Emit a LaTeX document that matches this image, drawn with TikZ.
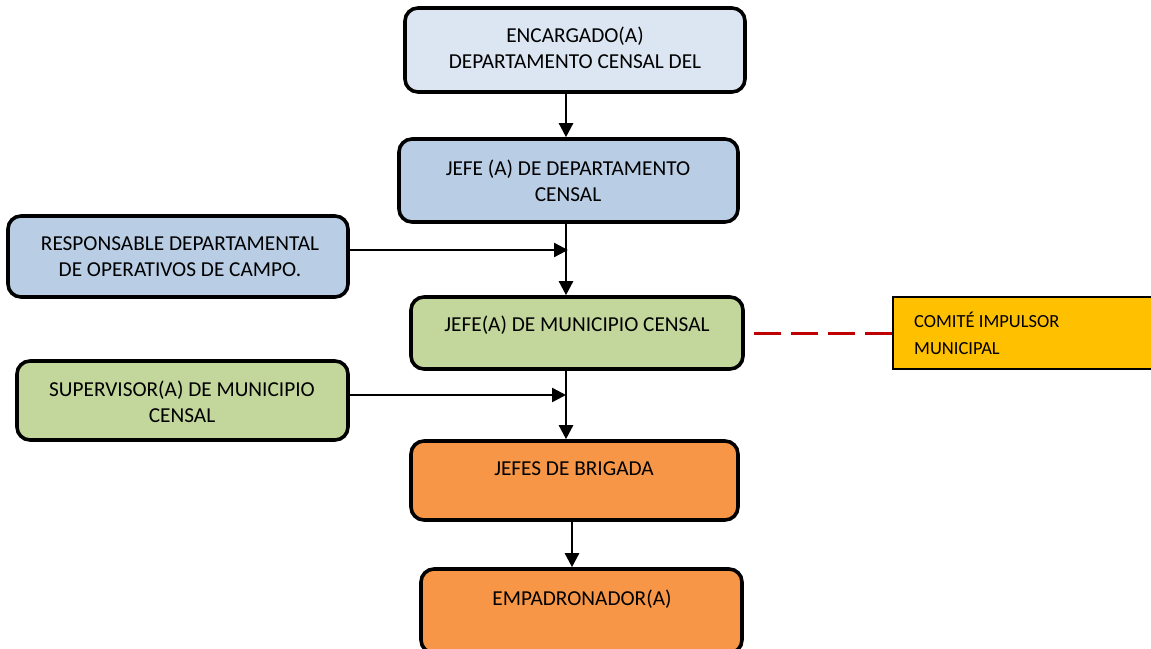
\documentclass[tikz,border=0pt]{standalone}
\usepackage{fontspec}
\setmainfont{Carlito}
\usetikzlibrary{arrows.meta}
\definecolor{blueA}{HTML}{DCE6F2}
\definecolor{blueB}{HTML}{B9CDE5}
\definecolor{greenA}{HTML}{C3D69B}
\definecolor{orangeA}{HTML}{F79646}
\definecolor{goldA}{HTML}{FFC000}
\definecolor{redA}{HTML}{C00000}
\tikzset{
  box/.style={draw=black, line width=3.6pt, rounded corners=13pt, inner sep=0pt},
  txt/.style={font=\fontsize{21.3}{26}\selectfont, align=center, inner sep=0pt},
  arr/.style={line width=2.4pt, -{Triangle[length=14pt,width=14pt]}},
}
\begin{document}
\begin{tikzpicture}[x=1pt,y=-1pt]
\useasboundingbox (0,0) rectangle (1151,648);
% boxes
\node[box, fill=blueA, minimum width=340pt, minimum height=84pt] (b1) at (575,50) {};
\node[box, fill=blueB, minimum width=339pt, minimum height=83pt] (b2) at (568.5,180.5) {};
\node[box, fill=blueB, minimum width=340pt, minimum height=81pt] (b3) at (178,256.5) {};
\node[box, fill=greenA, minimum width=332pt, minimum height=72pt] (b4) at (577,333) {};
\node[box, fill=greenA, minimum width=331pt, minimum height=79pt] (b5) at (182.5,400.5) {};
\node[box, fill=orangeA, minimum width=327pt, minimum height=79pt] (b6) at (574.5,480.5) {};
\node[box, fill=orangeA, minimum width=321pt, minimum height=84pt] (b7) at (581.5,611) {};
\node[draw=black, line width=1.2pt, fill=goldA, minimum width=262pt, minimum height=72pt, inner sep=0pt] (c1) at (1024,333) {};
% texts
\node[txt] (t1) at (575,48) {ENCARGADO(A)\\DEPARTAMENTO CENSAL DEL};
\node[txt] (t2) at (568,180.5) {JEFE (A) DE DEPARTAMENTO\\CENSAL};
\node[txt] (t3) at (180,257) {RESPONSABLE DEPARTAMENTAL\\DE OPERATIVOS DE CAMPO.};
\node[txt] (t4) at (577,325) {JEFE(A) DE MUNICIPIO CENSAL};
\node[txt] (t5) at (182,402) {SUPERVISOR(A) DE MUNICIPIO\\CENSAL};
\node[txt] (t6) at (574,469) {JEFES DE BRIGADA};
\node[txt] (t7) at (582,599) {EMPADRONADOR(A)};
\node[font=\fontsize{18.5}{27}\selectfont, align=left, inner sep=0pt, anchor=west] (t8) at (914,333.5) {COMITÉ IMPULSOR\\MUNICIPAL};
% connectors
\coordinate (spine) at (566,0);
\coordinate (spineB) at (572,0);
\coordinate (r1) at (568,250);
\coordinate (r2) at (566,395);
\draw[arr] (b1.south -| spine) -- (b2.north -| spine);
\draw[arr] (b2.south -| spine) -- (b4.north -| spine);
\draw[arr] (b3.east |- r1) -- (r1);
\draw[arr] (b4.south -| spine) -- (b6.north -| spine);
\draw[arr] (b5.east |- r2) -- (r2);
\draw[arr] (b6.south -| spineB) -- (b7.north -| spineB);
\draw[redA, line width=3pt, dash pattern=on 27pt off 10pt] (c1.west) -- (b4.east);
\end{tikzpicture}
\end{document}
